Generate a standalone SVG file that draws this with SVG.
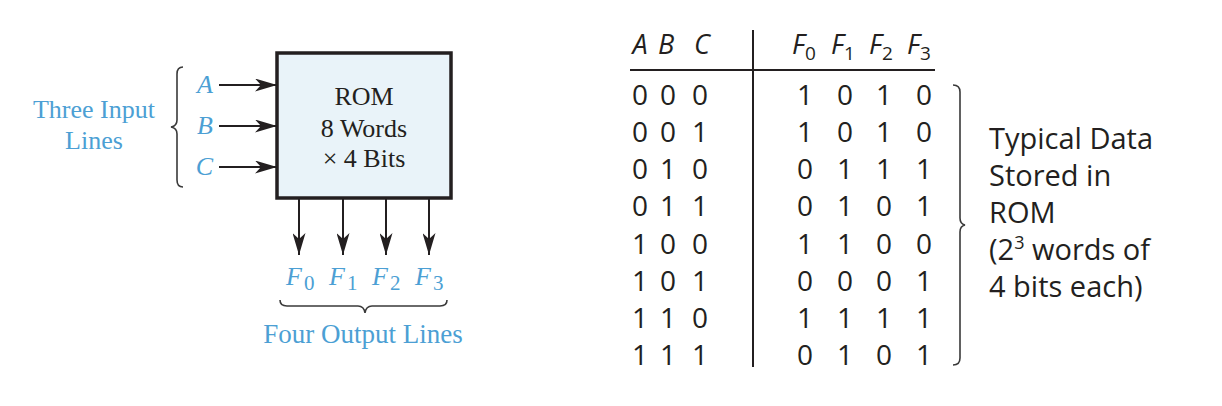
<svg xmlns="http://www.w3.org/2000/svg" width="1222" height="406" viewBox="0 0 1222 406">
<style>
.blue{fill:#4c9fd4;font-family:"Liberation Serif","Times New Roman",serif;}
.ser{font-family:"Liberation Serif","Times New Roman",serif;fill:#231f20;}
.sans{font-family:"Open Sans","Noto Sans",sans-serif;fill:#231f20;}
.it{font-style:italic;}
.ln{stroke:#231f20;stroke-width:2;fill:none;}
.br{stroke:#3a3a3a;stroke-width:1.6;fill:none;}
</style>
<defs>
<marker id="ah" viewBox="0 0 22 13" refX="22" refY="6.5" markerWidth="22" markerHeight="13" markerUnits="userSpaceOnUse" orient="auto">
<path d="M0,0 L22,6.5 L0,13 L6,6.5 Z" fill="#231f20"/>
</marker>
</defs>
<rect width="1222" height="406" fill="#ffffff"/>

<g id="input-labels">
<text class="blue" x="94" y="118" font-size="26" text-anchor="middle">Three Input</text>
<text class="blue" x="94" y="149" font-size="26" text-anchor="middle">Lines</text>
<path class="br" d="M183,67 Q177,67 177,74 L177,120 Q177,126 171,127 Q177,128 177,134 L177,180 Q177,187 183,187"/>
<text class="blue it" x="213" y="93" font-size="26" text-anchor="end">A</text>
<text class="blue it" x="213" y="134" font-size="26" text-anchor="end">B</text>
<text class="blue it" x="213" y="175" font-size="26" text-anchor="end">C</text>
</g>

<g id="rom">
<rect x="277" y="53" width="174" height="145" fill="#e9f3f9" stroke="#231f20" stroke-width="3.5"/>
<text class="ser" x="364" y="105" font-size="26" text-anchor="middle">ROM</text>
<text class="ser" x="364" y="137" font-size="26" text-anchor="middle">8 Words</text>
<text class="ser" x="364" y="167" font-size="26" text-anchor="middle">× 4 Bits</text>
</g>

<g id="connectors">
<line class="ln" x1="219" y1="85" x2="277" y2="85" marker-end="url(#ah)"/>
<line class="ln" x1="219" y1="126" x2="277" y2="126" marker-end="url(#ah)"/>
<line class="ln" x1="219" y1="167" x2="277" y2="167" marker-end="url(#ah)"/>
<line class="ln" x1="299" y1="198" x2="299" y2="255" marker-end="url(#ah)"/>
<line class="ln" x1="343" y1="198" x2="343" y2="255" marker-end="url(#ah)"/>
<line class="ln" x1="386" y1="198" x2="386" y2="255" marker-end="url(#ah)"/>
<line class="ln" x1="429" y1="198" x2="429" y2="255" marker-end="url(#ah)"/>
</g>

<g id="output-labels">
<text class="blue" x="286" y="285" font-size="26"><tspan font-style="italic">F</tspan><tspan font-size="21" dy="5" dx="2">0</tspan></text>
<text class="blue" x="329" y="285" font-size="26"><tspan font-style="italic">F</tspan><tspan font-size="21" dy="5" dx="2">1</tspan></text>
<text class="blue" x="372" y="285" font-size="26"><tspan font-style="italic">F</tspan><tspan font-size="21" dy="5" dx="2">2</tspan></text>
<text class="blue" x="415" y="285" font-size="26"><tspan font-style="italic">F</tspan><tspan font-size="21" dy="5" dx="2">3</tspan></text>
<path class="br" d="M280,300 Q280,306 287,306 L358,306 Q364,306 365,313 Q366,306 372,306 L440,306 Q447,306 447,300"/>
<text class="blue" x="363" y="343" font-size="27" text-anchor="middle">Four Output Lines</text>
</g>

<g id="truth-table" class="sans" font-size="28" text-anchor="middle">
<line class="ln" x1="630" y1="70" x2="935" y2="70"/>
<line class="ln" x1="753" y1="30" x2="753" y2="367"/>
<g font-size="27" font-style="italic">
<text x="640" y="54">A</text><text x="666" y="54">B</text><text x="702" y="54">C</text>
</g>
<g font-size="27" text-anchor="start">
<text x="792" y="54"><tspan font-style="italic">F</tspan><tspan font-size="19" dy="6">0</tspan></text>
<text x="831" y="54"><tspan font-style="italic">F</tspan><tspan font-size="19" dy="6">1</tspan></text>
<text x="869" y="54"><tspan font-style="italic">F</tspan><tspan font-size="19" dy="6">2</tspan></text>
<text x="907" y="54"><tspan font-style="italic">F</tspan><tspan font-size="19" dy="6">3</tspan></text>
</g>
<text y="105"><tspan x="640">0</tspan><tspan x="668">0</tspan><tspan x="700">0</tspan><tspan x="805">1</tspan><tspan x="845">0</tspan><tspan x="884">1</tspan><tspan x="924">0</tspan></text>
<text y="142"><tspan x="640">0</tspan><tspan x="668">0</tspan><tspan x="700">1</tspan><tspan x="805">1</tspan><tspan x="845">0</tspan><tspan x="884">1</tspan><tspan x="924">0</tspan></text>
<text y="179"><tspan x="640">0</tspan><tspan x="668">1</tspan><tspan x="700">0</tspan><tspan x="805">0</tspan><tspan x="845">1</tspan><tspan x="884">1</tspan><tspan x="924">1</tspan></text>
<text y="216"><tspan x="640">0</tspan><tspan x="668">1</tspan><tspan x="700">1</tspan><tspan x="805">0</tspan><tspan x="845">1</tspan><tspan x="884">0</tspan><tspan x="924">1</tspan></text>
<text y="254"><tspan x="640">1</tspan><tspan x="668">0</tspan><tspan x="700">0</tspan><tspan x="805">1</tspan><tspan x="845">1</tspan><tspan x="884">0</tspan><tspan x="924">0</tspan></text>
<text y="291"><tspan x="640">1</tspan><tspan x="668">0</tspan><tspan x="700">1</tspan><tspan x="805">0</tspan><tspan x="845">0</tspan><tspan x="884">0</tspan><tspan x="924">1</tspan></text>
<text y="328"><tspan x="640">1</tspan><tspan x="668">1</tspan><tspan x="700">0</tspan><tspan x="805">1</tspan><tspan x="845">1</tspan><tspan x="884">1</tspan><tspan x="924">1</tspan></text>
<text y="365"><tspan x="640">1</tspan><tspan x="668">1</tspan><tspan x="700">1</tspan><tspan x="805">0</tspan><tspan x="845">1</tspan><tspan x="884">0</tspan><tspan x="924">1</tspan></text>
</g>

<g id="data-note" class="sans" font-size="29">
<path class="br" d="M953,85 Q960,85 960,92 L960,218 Q960,224 965,225 Q960,226 960,232 L960,358 Q960,365 953,365"/>
<text x="989" y="149">Typical Data</text>
<text x="989" y="186">Stored in</text>
<text x="989" y="223">ROM</text>
<text x="989" y="260">(2<tspan font-size="18" dy="-11">3</tspan><tspan dy="11"> words of</tspan></text>
<text x="989" y="297">4 bits each)</text>
</g>
</svg>
